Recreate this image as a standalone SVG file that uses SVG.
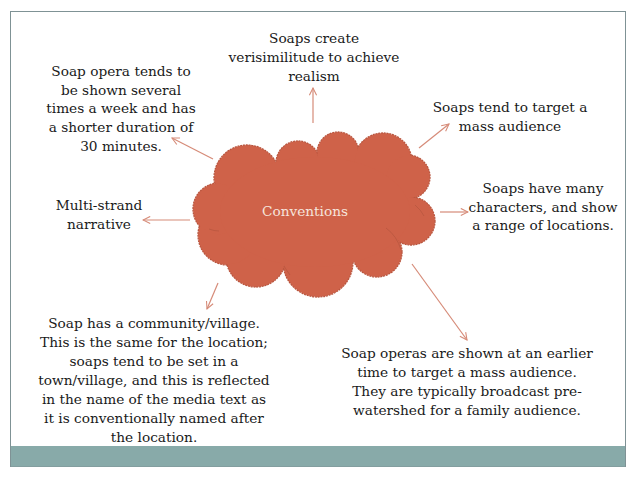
<svg xmlns="http://www.w3.org/2000/svg" width="638" height="479" viewBox="0 0 638 479">
<defs>
<style>
.t{font-family:"DejaVu Serif","Liberation Serif",serif;font-size:13.7px;fill:#1a1a1a;text-anchor:middle}
.c{fill:none;stroke:#d68b78;stroke-width:1.2}
.cl{fill:#cf6249}
.clo{fill:#cf6249;stroke:#b9563f;stroke-width:1.3;stroke-dasharray:2 0.8}
.inner{fill:none;stroke:#bb5841;stroke-width:0.9}
</style>
<marker id="ah" viewBox="0 0 10 10" refX="9" refY="5" markerWidth="9" markerHeight="9" orient="auto" markerUnits="userSpaceOnUse">
<path d="M1,1 L9,5 L1,9" fill="none" stroke="#d68b78" stroke-width="1.2"/>
</marker>
</defs>
<rect width="638" height="479" fill="#ffffff"/>
<rect id="frame" x="10.5" y="11.5" width="615" height="455" fill="#ffffff" stroke="#7f9295" stroke-width="1"/>
<rect id="bar" x="11" y="446" width="614" height="20.5" fill="#88aaa9"/>

<g id="cloud">
<g class="outline">
<circle class="clo" cx="247" cy="178" r="33"/>
<circle class="clo" cx="298" cy="163" r="22"/>
<circle class="clo" cx="338" cy="153" r="21"/>
<circle class="clo" cx="383" cy="162" r="29"/>
<circle class="clo" cx="408" cy="177" r="22"/>
<circle class="clo" cx="411" cy="221" r="24"/>
<circle class="clo" cx="377" cy="252" r="25"/>
<circle class="clo" cx="318" cy="262" r="35"/>
<circle class="clo" cx="256" cy="257" r="30"/>
<circle class="clo" cx="228" cy="235" r="30"/>
<circle class="clo" cx="219" cy="209" r="26"/>
</g>
<g class="fillc">
<circle class="cl" cx="247" cy="178" r="32.2"/>
<circle class="cl" cx="298" cy="163" r="21.2"/>
<circle class="cl" cx="338" cy="153" r="20.2"/>
<circle class="cl" cx="383" cy="162" r="28.2"/>
<circle class="cl" cx="408" cy="177" r="21.2"/>
<circle class="cl" cx="411" cy="221" r="23.2"/>
<circle class="cl" cx="377" cy="252" r="24.2"/>
<circle class="cl" cx="318" cy="262" r="34.2"/>
<circle class="cl" cx="256" cy="257" r="29.2"/>
<circle class="cl" cx="228" cy="235" r="29.2"/>
<circle class="cl" cx="219" cy="209" r="25.2"/>
<ellipse class="cl" cx="315" cy="212" rx="95" ry="55"/>
</g>
<path class="inner" d="M209,229 Q214,231 219,231"/>
<path class="inner" d="M386,228 Q397,236 401,250"/>
<path class="inner" d="M415,205 Q421,210 424,216"/>
<path class="inner" d="M284,266 Q287,271 290,275"/>
<text x="305" y="216" style="font-family:'DejaVu Serif','Liberation Serif',serif;font-size:13.7px;fill:#f6e4dc;text-anchor:middle">Conventions</text>
</g>

<g id="connectors">
<line class="c" x1="313" y1="123" x2="313" y2="88" marker-end="url(#ah)"/>
<line class="c" x1="213" y1="159" x2="172" y2="138" marker-end="url(#ah)"/>
<line class="c" x1="419" y1="148" x2="449" y2="124" marker-end="url(#ah)"/>
<line class="c" x1="440" y1="212" x2="468" y2="212" marker-end="url(#ah)"/>
<line class="c" x1="190" y1="220" x2="143" y2="220" marker-end="url(#ah)"/>
<line class="c" x1="218" y1="283" x2="207" y2="309" marker-end="url(#ah)"/>
<line class="c" x1="412" y1="264" x2="467" y2="340" marker-end="url(#ah)"/>
</g>

<g id="n-top">
<text class="t" x="314" y="43">Soaps create</text>
<text class="t" x="314" y="62">verisimilitude to achieve</text>
<text class="t" x="314" y="81">realism</text>
</g>
<g id="n-topleft">
<text class="t" x="121" y="76">Soap opera tends to</text>
<text class="t" x="121" y="95">be shown several</text>
<text class="t" x="121" y="113">times a week and has</text>
<text class="t" x="121" y="132">a shorter duration of</text>
<text class="t" x="121" y="151">30 minutes.</text>
</g>
<g id="n-topright">
<text class="t" x="510" y="112">Soaps tend to target a</text>
<text class="t" x="510" y="131">mass audience</text>
</g>
<g id="n-right">
<text class="t" x="543" y="193">Soaps have many</text>
<text class="t" x="543" y="212">characters, and show</text>
<text class="t" x="543" y="230">a range of locations.</text>
</g>
<g id="n-left">
<text class="t" x="99" y="210">Multi-strand</text>
<text class="t" x="99" y="229">narrative</text>
</g>
<g id="n-bottomleft">
<text class="t" x="154" y="328">Soap has a community/village.</text>
<text class="t" x="154" y="347">This is the same for the location;</text>
<text class="t" x="154" y="366">soaps tend to be set in a</text>
<text class="t" x="154" y="385">town/village, and this is reflected</text>
<text class="t" x="154" y="404">in the name of the media text as</text>
<text class="t" x="154" y="423">it is conventionally named after</text>
<text class="t" x="154" y="442">the location.</text>
</g>
<g id="n-bottomright">
<text class="t" x="467" y="358">Soap operas are shown at an earlier</text>
<text class="t" x="467" y="377">time to target a mass audience.</text>
<text class="t" x="467" y="396">They are typically broadcast pre-</text>
<text class="t" x="467" y="415">watershed for a family audience.</text>
</g>
</svg>
